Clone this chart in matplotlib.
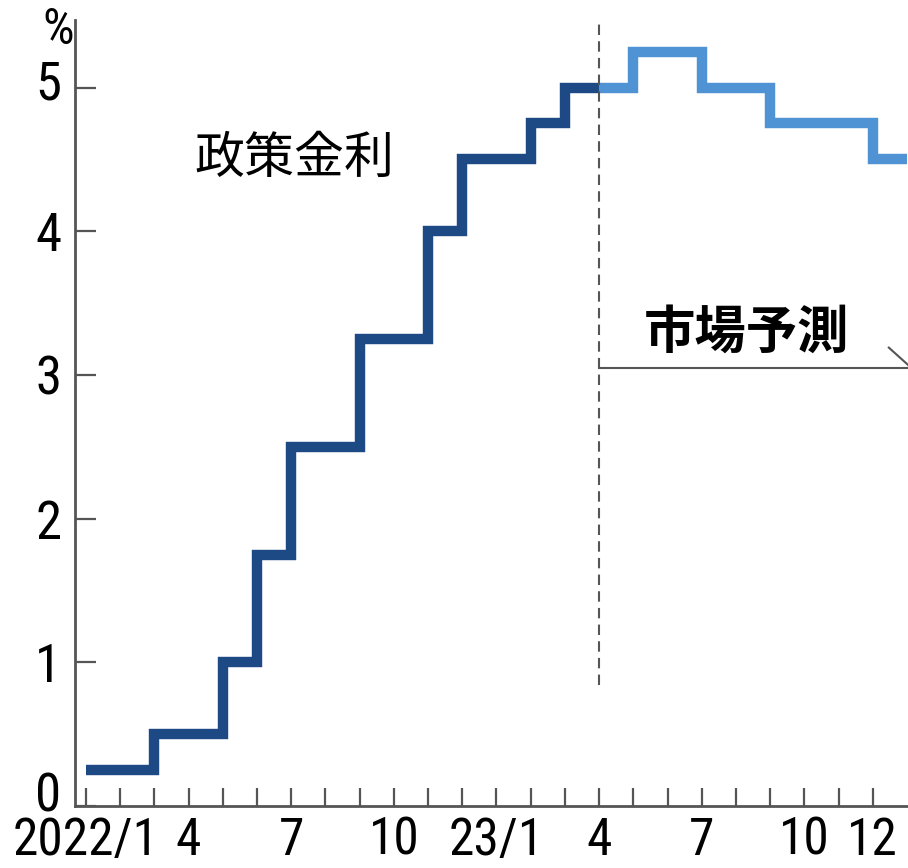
import matplotlib
matplotlib.use('Agg')
import matplotlib.pyplot as plt
from matplotlib import font_manager
from matplotlib.transforms import ScaledTranslation

# month index: 0 = 2022/1
tick_pos = list(range(24))
tick_labels = {0: '2022/1', 3: '4', 6: '7', 9: '10', 12: '23/1', 15: '4', 18: '7', 21: '10', 23: '12'}

# policy rate (actual), step changes
actual_x = [0, 2, 4, 5, 6, 8, 10, 11, 13, 14, 15]
actual_y = [0.25, 0.5, 1.0, 1.75, 2.5, 3.25, 4.0, 4.5, 4.75, 5.0, 5.0]
# market forecast
fcst_x = [15, 16, 18, 20, 23, 24]
fcst_y = [5.0, 5.25, 5.0, 4.75, 4.5, 4.5]

y_ticks = [0, 1, 2, 3, 4, 5]

names = {f.name for f in font_manager.fontManager.ttflist}
num_font = 'DejaVu Sans'
for cand in ['Roboto Condensed', 'Archivo Narrow', 'Liberation Sans Narrow', 'Liberation Sans']:
    if cand in names:
        num_font = cand
        break
jp_font = ['Noto Sans CJK JP', 'DejaVu Sans']

axis_col = '#555555'
dark = '#1d4a84'
light = '#4f93d4'

fig = plt.figure(figsize=(9.08, 8.68), dpi=100)
ax = fig.add_axes([75/908, 62/868, 833/908, 786/868])
ax.set_xlim(-0.32, 24.03)
ax.set_ylim(0, 5.47)

for s in ['top', 'right']:
    ax.spines[s].set_visible(False)
for s in ['left', 'bottom']:
    ax.spines[s].set_color(axis_col)
    ax.spines[s].set_linewidth(2)

ax.step(fcst_x, fcst_y, where='post', color=light, lw=7.5,
        solid_capstyle='butt', solid_joinstyle='miter', zorder=3)
ax.step(actual_x, actual_y, where='post', color=dark, lw=7.5,
        solid_capstyle='butt', solid_joinstyle='miter', zorder=4)

# boundary between actual and forecast
ax.plot([15, 15], [0.84, 5.47], color=axis_col, lw=1.5, ls=(0, (5, 3)), zorder=5, clip_on=False)
ax.plot([15, 24.03], [3.05, 3.05], color=axis_col, lw=1.5, zorder=2, clip_on=False)
ax.plot([23.47, 24.03], [3.19, 3.07], color=axis_col, lw=1.5, zorder=2, clip_on=False)

ax.set_xticks(tick_pos)
ax.set_xticklabels([tick_labels.get(i, '') for i in tick_pos])
ax.tick_params(axis='x', direction='in', length=13, width=1.6, color=axis_col,
               pad=7, labelsize=37)
ax.set_yticks(y_ticks)
ax.set_yticklabels([str(v) for v in y_ticks])
ax.tick_params(axis='y', direction='in', length=15, width=1.6, color=axis_col,
               pad=10, labelsize=38)
for lab in ax.get_xticklabels() + ax.get_yticklabels():
    lab.set_family(num_font)
# nudge the "0" and "5" labels upward as in the original
for i, dy in [(0, 15), (5, 8)]:
    lab = ax.get_yticklabels()[i]
    lab.set_transform(lab.get_transform() + ScaledTranslation(0, dy / 100, fig.dpi_scale_trans))

ax.text(-0.36, 5.30, '%', family=num_font, fontsize=36, ha='right', va='baseline')

ax.text(6.1, 4.5, '政策金利', family=jp_font, fontsize=36, ha='center', va='center')
ax.text(19.3, 3.3, '市場予測', family=jp_font, fontsize=37, fontweight='bold',
        ha='center', va='center')

fig.savefig('out.png', dpi=100)
